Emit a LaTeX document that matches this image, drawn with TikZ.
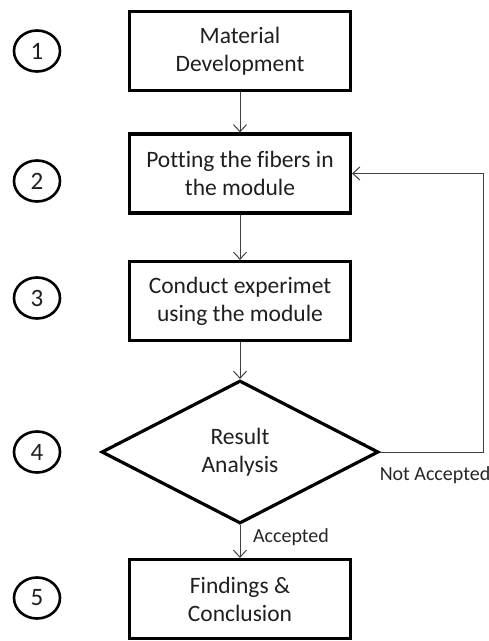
\documentclass[tikz,border=0pt]{standalone}
\usepackage{fontspec}
\setmainfont{Carlito}[Ligatures={NoCommon}]
\usetikzlibrary{shapes.geometric,arrows.meta}
\begin{document}
\begin{tikzpicture}[x=1pt,y=-1pt,
  stepbox/.style={draw=black,line width=3.2pt,minimum width=221pt,minimum height=79pt,align=center,font=\fontsize{23.5}{28}\selectfont,inner sep=0pt,text=black!88},
  decision/.style={diamond,draw=black,line width=3.2pt,minimum width=277pt,minimum height=143pt,inner sep=0pt,align=center,font=\fontsize{23.5}{28}\selectfont,aspect=1.94,text=black!88},
  num/.style={draw=black,line width=2.6pt,ellipse,minimum width=46pt,minimum height=41pt,inner sep=0pt,font=\fontsize{25}{28}\selectfont,text=black!88},
  conn/.style={draw=black!75,line width=1pt,-{Straight Barb[length=7pt,width=13pt]}},
  lbl/.style={font=\fontsize{20}{23}\selectfont,text=black!85,inner sep=0pt}]
\useasboundingbox (0,0) rectangle (489,641);
\node[stepbox] (s1) at (240,51) {Material\\Development};
\node[stepbox] (s2) at (240,173.5) {Potting the fibers in\\the module};
\node[stepbox] (s3) at (240,301) {Conduct experimet\\using the module};
\node[decision] (s4) at (240,452) {Result\\Analysis};
\node[stepbox] (s5) at (240,599) {Findings \&\\Conclusion};
\node[num] (n1) at (37,51) {1};
\node[num] (n2) at (37,181) {2};
\node[num] (n3) at (37,298) {3};
\node[num] (n4) at (37,452) {4};
\node[num] (n5) at (37,598) {5};
\coordinate (c1) at (483,452);
\coordinate (c2) at (483,173.5);
\draw[conn] (s1) -- (s2);
\draw[conn] (s2) -- (s3);
\draw[conn] (s3) -- (s4);
\draw[conn] (s4) -- (s5);
\draw[conn] (s4.east) -- (c1) -- (c2) -- (s2.east);
\node[lbl] (na) at (435,475) {Not Accepted};
\node[lbl] (ac) at (291,537) {Accepted};
\end{tikzpicture}
\end{document}
